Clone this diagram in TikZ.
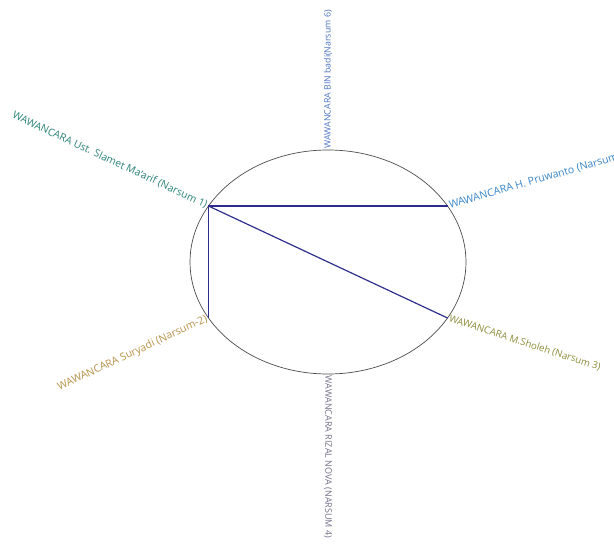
\documentclass[tikz,border=0pt]{standalone}
\usepackage{fontspec}
\setmainfont{Open Sans}
\usetikzlibrary{calc}
\definecolor{linknavy}{RGB}{44,44,140}
\definecolor{nsblue}{RGB}{74,114,192}
\definecolor{nsteal}{RGB}{42,130,120}
\definecolor{nssky}{RGB}{58,134,200}
\definecolor{nsolive}{RGB}{140,140,58}
\definecolor{nsgold}{RGB}{184,146,74}
\definecolor{nsgrey}{RGB}{112,112,136}

\begin{document}
\begin{tikzpicture}[x=0.03cm, y=0.03cm,
      lbl/.style={font=\fontsize{#1}{#1}\selectfont, inner sep=1.5pt},
      link/.style={line width=1pt, color=linknavy}
    ]
    \useasboundingbox (0,0) rectangle (614,546);
    \coordinate (c) at (328,284);
    \draw[gray!60!black, line width=0.6pt] (c) ellipse (138 and 112);

    % points on the ellipse
    \coordinate (n1) at ($(c)+(150:138 and 112)$);
    \coordinate (n2) at ($(c)+(210:138 and 112)$);
    \coordinate (n3) at ($(c)+(330:138 and 112)$);
    \coordinate (n4) at ($(c)+(270:138 and 112)$);
    \coordinate (n5) at ($(c)+(30:138 and 112)$);
    \coordinate (n6) at ($(c)+(90:138 and 112)$);

    \draw[link] (n1) -- (n5);
    \draw[link] (n1) -- (n3);
    \draw[link] (n1) -- (n2);

    \node[lbl=8.8, anchor=east, rotate=-25, text=nsteal] (l1) at (n1)
      {WAWANCARA Ust. Slamet Ma'arif (Narsum 1)};
    \node[lbl=9, anchor=east, rotate=25, text=nsgold] (l2) at (n2)
      {WAWANCARA Suryadi (Narsum-2)};
    \node[lbl=8.3, anchor=west, rotate=-18, text=nsolive] (l3) at (n3)
      {WAWANCARA M.Sholeh (Narsum 3)};
    \node[lbl=7.7, anchor=west, rotate=-90, text=nsgrey] (l4) at (n4)
      {WAWANCARA RIZAL NOVA (NARSUM 4)};
    \node[lbl=9, anchor=west, rotate=16, text=nssky] (l5) at (n5)
      {WAWANCARA H. Pruwanto (Narsum 5)};
    \node[lbl=7.5, anchor=west, rotate=90, text=nsblue] (l6) at (n6)
      {WAWANCARA BIN badi(Narsum 6)};
  \end{tikzpicture}
\end{document}
